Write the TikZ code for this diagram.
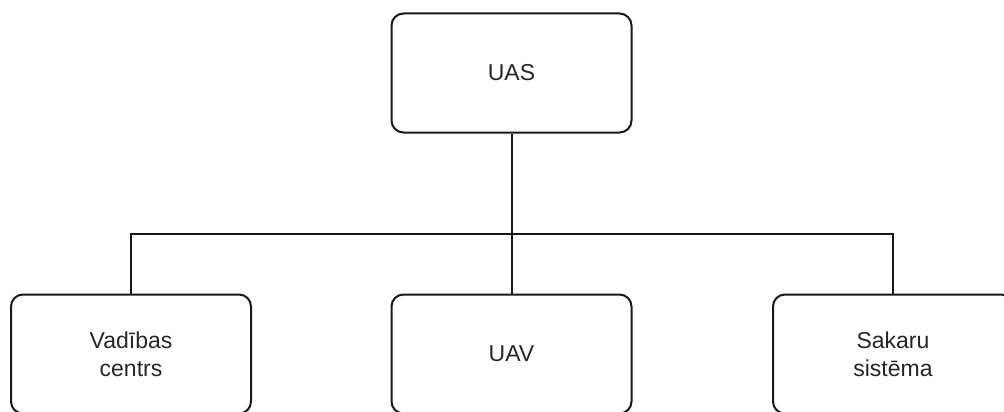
\documentclass[tikz,border=0pt]{standalone}
\usepackage{fontspec}
\setmainfont{Liberation Sans}
\begin{document}
\begin{tikzpicture}[x=1pt,y=-1pt,
  box/.style={draw=black!90, line width=2pt, rounded corners=12pt, rectangle,
    minimum width=240pt, minimum height=119pt, inner sep=0pt, align=center,
    text=black!85, font=\fontsize{23}{27.6}\selectfont},
  link/.style={draw=black!90, line width=2pt}]
\useasboundingbox (0,0) rectangle (1004,412);
\node[box] (uas) at (511.5,73) {UAS};
\node[box] (vc) at (131,354) {Vadības\\centrs};
\node[box] (uav) at (511.5,354) {UAV};
\node[box] (ss) at (893,354) {Sakaru\\sistēma};
\coordinate (bus) at (511.5,234);
\draw[link] (uas.south) -- (uav.north);
\draw[link] (vc.north) |- (bus) -| (ss.north);
\end{tikzpicture}
\end{document}
